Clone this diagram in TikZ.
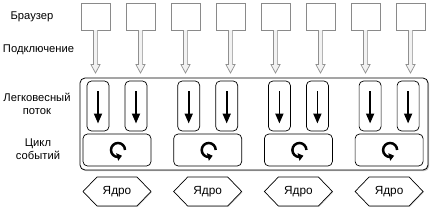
\documentclass[tikz,border=0pt]{standalone}
\usepackage{fontspec}
\setmainfont{Liberation Sans}
\usetikzlibrary{calc,arrows.meta,shadows,bending}
\definecolor{bordergray}{HTML}{8A8A8A}
\definecolor{arrowgray}{HTML}{909090}
\definecolor{arrowfill}{HTML}{F2F2F2}
\begin{document}
\begin{tikzpicture}[x=1pt,y=1pt,
  lbl/.style={font=\fontsize{11.2}{13.5}\selectfont, align=center, inner sep=0pt},
  klbl/.style={font=\fontsize{11.8}{13.5}\selectfont, inner sep=0pt},
  browser/.style={draw=bordergray, fill=white, minimum width=29pt, minimum height=27pt, inner sep=0pt, outer sep=0pt,
    drop shadow={opacity=0.25, shadow xshift=0.8pt, shadow yshift=-0.8pt}},
  hollow/.style={draw=arrowgray, fill=arrowfill, line width=0.7pt, line join=miter},
  container/.style={draw=black, line width=0.8pt, fill=white, rounded corners=5pt, minimum width=348pt, minimum height=92pt, inner sep=0pt, outer sep=0pt,
    drop shadow={opacity=0.45, shadow xshift=1.2pt, shadow yshift=-1.2pt}},
  thread/.style={draw=black, line width=0.7pt, rounded corners=4.5pt, minimum width=22pt, minimum height=50pt, inner sep=0pt, outer sep=0pt},
  evloop/.style={draw=black, line width=0.7pt, rounded corners=4.5pt, minimum width=68pt, minimum height=32pt, inner sep=0pt, outer sep=0pt},
  kernelnode/.style={minimum width=68pt, minimum height=29pt, inner sep=0pt, outer sep=0pt},
  hexline/.style={draw=black, line width=0.7pt, fill=white},
  flow/.style={line width=1.8pt, -{Triangle[length=10pt,width=8pt]}},
  cyc/.style={line width=2.5pt, -{Triangle[length=5pt,width=7.5pt,flex]}}
]
\useasboundingbox (0,0) rectangle (432,-212);

% left labels
\node[lbl] (l1) at (32,-17) {Браузер};
\node[lbl] (l2) at (38.5,-50) {Подключение};
\node[lbl] (l3) at (37,-104) {Легковесный\\поток};
\node[lbl] (l4) at (38,-149) {Цикл\\событий};

% container
\node[container] (cont) at (254,-124) {};

% browsers and connection arrows
\foreach \i in {0,...,7} {
  \pgfmathsetmacro{\bx}{95.5+45*\i}
  \node[browser] (b\i) at (\bx,-16.5) {};
  \coordinate (t\i) at (\bx,-73);
  \draw[hollow] ($(b\i.south)+(-2.1,0)$) -- ($(t\i)+(-2.1,8.5)$) -- ($(t\i)+(-4.6,8.5)$) -- (t\i)
     -- ($(t\i)+(4.6,8.5)$) -- ($(t\i)+(2.1,8.5)$) -- ($(b\i.south)+(2.1,0)$);
}

% groups
\foreach \j in {0,...,3} {
  \pgfmathsetmacro{\px}{117+90.7*\j}
  \node[thread] (ta\j) at (\px-19,-106) {};
  \node[thread] (tb\j) at (\px+19,-106) {};
  \draw[flow] ($(ta\j.north)+(0,-10)$) -- ($(ta\j.south)+(0,7.5)$);
  \draw[flow] ($(tb\j.north)+(0,-10)$) -- ($(tb\j.south)+(0,7.5)$);
  \node[evloop] (e\j) at (\px,-150) {};
  \coordinate (c\j) at ($(e\j.center)+(1,0)$);
  \draw[cyc] ($(c\j)+(0:7)$) arc (0:305:7);
  \node[kernelnode] (k\j) at (\px,-191.5) {};
  \fill[black!18] ($(k\j.west)+(0.8,-0.8)$) -- ($(k\j.north west)+(14.8,-0.8)$) -- ($(k\j.north east)+(-13.2,-0.8)$) -- ($(k\j.east)+(0.8,-0.8)$)
     -- ($(k\j.south east)+(-13.2,-0.8)$) -- ($(k\j.south west)+(14.8,-0.8)$) -- cycle;
  \draw[hexline] (k\j.west) -- ($(k\j.north west)+(14,0)$) -- ($(k\j.north east)+(-14,0)$) -- (k\j.east)
     -- ($(k\j.south east)+(-14,0)$) -- ($(k\j.south west)+(14,0)$) -- cycle;
  \node[klbl] at (k\j.center) {Ядро};
}
\end{tikzpicture}
\end{document}
